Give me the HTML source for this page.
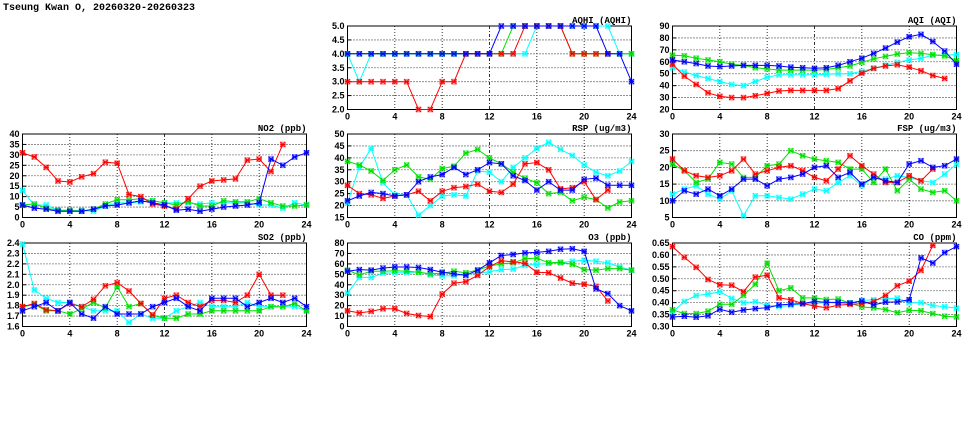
<!DOCTYPE html>
<html><head><meta charset="utf-8"><style>
html,body{margin:0;padding:0;background:#fff;}
svg{display:block;}
text{font-family:"Liberation Sans",sans-serif;font-weight:bold;font-size:9px;fill:#000;}
.ttl{font-family:"Liberation Mono",monospace;font-size:9px;}
</style></head><body>
<svg id="chart" width="975" height="447" viewBox="0 0 975 447">
<text class="ttl" x="3" y="10" style="font-size:10px">Tseung Kwan O, 20260320-20260323</text>
</svg>
<script>
const hours = [0,1,2,3,4,5,6,7,8,9,10,11,12,13,14,15,16,17,18,19,20,21,22,23,24];
const seriesColors = ["#ff0000","#00e000","#00ffff","#0000ff"];
const seriesOrder = [2,1,0,3];
const xTickLabels = [0,4,8,12,16,20,24];

const no2Red = [31,29,24,17.5,17,19.5,21,26.5,26,11,10,6.5,5.5,4,9,15,17.5,18,18.5,27.5,28,22,35,null,null];
const no2Green = [6,6.5,4.5,3.5,3.5,3,4,6.5,8.5,8.5,9,8,7,6,7.5,5.5,5.5,8,7.5,7.5,9,7,5.5,5.5,6];
const no2Blue = [6,4.5,4,3,3,3,4,5.5,6,7,8,7,6,3.5,4,3,4,5,5.5,6,7,28,25,29,31];
const no2Cyan = [13,6,6,3.5,3,3.5,3,5.5,7,7,7.5,8,7,7,7,6.5,7,7,7,7,6,6,4.5,7,6];
const no2Ticks = [0,5,10,15,20,25,30,35,40];

const aqhiRed = [3,3,3,3,3,3,2,2,3,3,4,4,4,4,4,5,5,5,5,4,4,4,4,null,null];
const aqhiGreen = [4,4,4,4,4,4,4,4,4,4,4,4,4,4,5,5,5,5,5,4,4,4,4,4,4];
const aqhiBlue = [4,4,4,4,4,4,4,4,4,4,4,4,4,5,5,5,5,5,5,5,5,5,4,4,3];
const aqhiCyan = [4,3,4,4,4,4,4,4,4,4,4,4,4,4,4,4,5,5,5,5,5,5,5,4,4];
const aqhiTicks = [2.0,2.5,3.0,3.5,4.0,4.5,5.0];

const aqiRed = [58,48,41,34,31,30,30,31.5,33.5,35.5,36,36,36,36,37.5,44,50.5,54.5,56.5,57.5,55.5,52.5,48.5,46,null];
const aqiGreen = [65.5,65,63,61.5,60,58,57,55,54,53,53,53,53,53.5,55,56.5,59.5,62.5,64.5,66.5,67.5,67,66,65,61];
const aqiBlue = [61.5,60,58.5,56.5,56,56.5,57,57,57,56.5,55.5,55,54.5,55,57,60,63,67,71.5,76.5,81,83,77,69,58];
const aqiCyan = [55,51.5,48.5,46,43.5,41,40,43.5,47,49,49,49,49,49.5,50,50,52,54.5,57,59.5,61.5,63,65.5,65.5,66];
const aqiTicks = [20,30,40,50,60,70,80,90];

const rspRed = [28.5,25,24.5,23,24,24.5,26,22,26,27.5,28,29,26,25.5,29,37.5,38,35,27,27.5,30,22.5,26.5,null,null];
const rspGreen = [38.5,37,34.5,30.5,35,37,32,31,35.5,36.5,42,43.5,40,37.5,34,31.5,29.5,25,25.5,22,23.5,22.5,19,21.5,22];
const rspBlue = [22,24,25.5,25,24,24.5,30,32,33,36,33,35,38,37.5,32.5,30.5,26.5,30,26.5,26.5,31,31.5,28.5,28.5,28.5];
const rspCyan = [21,36,44,29.5,24.5,24.5,16,20,24,24.5,24,34.5,34,30,36,40,44,46.5,43.5,41,37,34,32.5,34.5,38.5];
const rspTicks = [15,20,25,30,35,40,45,50];

const fspRed = [22.5,19,17.5,17,17.5,19,22.5,18,19,20,20.5,19,17,16,19.5,23.5,20.5,18,15.5,15.5,17.5,16,19.5,null,null];
const fspGreen = [21,19,15.5,16.5,21.5,21,17,17,20.5,21,25,23.5,22.5,22,21.5,19.5,19.5,15.5,19.5,13,16.5,13.5,12.5,13,10];
const fspBlue = [10,13,12,13.5,11.5,13.5,16.5,16.5,14.5,16.5,17,18,20,20.5,17,18.5,15,17,16,15.5,21,22,20,20.5,22.5];
const fspCyan = [12,13.5,14.5,12,10.5,13,5.5,11.5,11.5,11,10.5,12,13.5,13,15.5,17.5,14.5,17,16.5,17.5,17,16,15.5,18,21];
const fspTicks = [5,10,15,20,25,30];

const so2Red = [1.79,1.82,1.76,1.75,1.82,1.79,1.86,1.99,2.02,1.94,1.82,1.71,1.87,1.9,1.83,1.79,1.85,1.85,1.83,1.9,2.1,1.9,1.9,null,null];
const so2Green = [1.79,1.81,1.75,1.75,1.72,1.77,1.83,1.78,1.98,1.79,1.82,1.71,1.68,1.68,1.72,1.72,1.75,1.75,1.75,1.75,1.75,1.79,1.79,1.82,1.75];
const so2Blue = [1.75,1.79,1.83,1.75,1.83,1.72,1.68,1.79,1.72,1.72,1.72,1.79,1.83,1.87,1.79,1.75,1.87,1.87,1.87,1.79,1.83,1.87,1.83,1.87,1.79];
const so2Cyan = [2.39,1.95,1.87,1.83,1.83,1.79,1.75,1.75,1.75,1.64,1.72,1.68,1.68,1.75,1.79,1.83,1.79,1.79,1.79,1.83,1.79,1.79,1.79,1.79,1.75];
const so2Ticks = [1.6,1.7,1.8,1.9,2.0,2.1,2.2,2.3,2.4];

const o3Red = [15,13,14.5,17,17,12.5,10.5,9.5,31,41.5,43,49,57.5,63,62,60.5,52,51.5,46.5,41.5,40.5,38.5,24.5,null,null];
const o3Green = [54,49.5,53,53,53.5,53,52,50.5,51,53,51.5,54,58,60,61,65,65.5,61,61.5,59.5,54.5,54,55.5,55.5,54];
const o3Blue = [53,54.5,54,56,57,57,56.5,54.5,52,50.5,49,54,61,68,69,70.5,71,72,74,74.5,72,36,31.5,20,15];
const o3Cyan = [32,47,47,51,51.5,51.5,52.5,49.5,48.5,48.5,50,51,52.5,54.5,55,58.5,59.5,60.5,61,62.5,63.5,62.5,61,57,54];
const o3Ticks = [0,10,20,30,40,50,60,70,80];

const coRed = [0.635,0.59,0.548,0.497,0.475,0.473,0.446,0.507,0.515,0.42,0.412,0.396,0.386,0.379,0.389,0.393,0.395,0.405,0.43,0.471,0.49,0.535,0.64,null,null];
const coGreen = [0.37,0.354,0.354,0.364,0.393,0.393,0.43,0.477,0.565,0.45,0.462,0.42,0.42,0.413,0.415,0.398,0.382,0.378,0.371,0.358,0.368,0.366,0.354,0.343,0.34];
const coBlue = [0.34,0.343,0.339,0.345,0.372,0.36,0.369,0.375,0.379,0.39,0.394,0.396,0.405,0.401,0.401,0.398,0.407,0.391,0.402,0.403,0.412,0.588,0.566,0.61,0.635];
const coCyan = [0.36,0.405,0.43,0.436,0.446,0.418,0.399,0.404,0.389,0.384,0.388,0.396,0.395,0.401,0.398,0.399,0.409,0.412,0.416,0.419,0.399,0.4,0.388,0.383,0.377];
const coTicks = [0.30,0.35,0.40,0.45,0.50,0.55,0.60,0.65];

const NS = "http://www.w3.org/2000/svg";
const svg = document.getElementById("chart");
function mk(tag, attrs, parent){
  const e = document.createElementNS(NS, tag);
  for (const k in attrs) e.setAttribute(k, attrs[k]);
  (parent||svg).appendChild(e);
  return e;
}
const colX = [22.5, 347.5, 672.5];
const rowY = [26, 134, 243];
const W = 284, H = 83.5;

function panel(name, title, col, row, ticks, dec, series){
  const x0 = colX[col], y0 = rowY[row];
  const ymin = ticks[0], ymax = ticks[ticks.length-1];
  const sx = v => x0 + (v/24)*W;
  const sy = v => y0 + H - (v-ymin)/(ymax-ymin)*H;
  const g = mk("g", {});
  
  
  ticks.forEach((t,i) => {
    if (i>0 && i<ticks.length-1){
      const l = mk("line",{x1:x0,x2:x0+W,y1:sy(t),y2:sy(t),stroke:"#000","stroke-width":0.8,"stroke-dasharray":"1,2"},g);
      
      
    }
    const tl = mk("text",{x:x0-3,y:sy(t)+3,"text-anchor":"end"},g);
    tl.textContent = t.toFixed(dec);
    
    
    mk("line",{x1:x0,x2:x0+4,y1:sy(t),y2:sy(t),stroke:"#000","stroke-width":1},g);
  });
  xTickLabels.forEach((t,i) => {
    if (i>0 && i<xTickLabels.length-1){
      const l = mk("line",{x1:sx(t),x2:sx(t),y1:y0,y2:y0+H,stroke:"#000","stroke-width":0.8,"stroke-dasharray": t===12?"3,2,1,2":"1,2"},g);
      
      
    }
    const tl = mk("text",{x:sx(t),y:y0+H+10,"text-anchor":"middle"},g);
    tl.textContent = t;
    
    
  });
  const fr = mk("rect",{x:x0,y:y0,width:W,height:H,fill:"none",stroke:"#000","stroke-width":1},g);
  
  
  const tt = mk("text",{x:x0+W,y:y0-3,"text-anchor":"end",class:"ttl"},g);
  tt.textContent = title;
  
  
  seriesOrder.forEach(si => {
    const vals = series[si], c = seriesColors[si];
    let d = "", pen = false;
    vals.forEach((v,i) => {
      if (v===null){pen=false;return;}
      d += (pen?"L":"M") + sx(hours[i]).toFixed(1) + "," + sy(v).toFixed(1);
      pen = true;
    });
    const p = mk("path",{d:d,fill:"none",stroke:c,"stroke-width":1},g);
    
    
    vals.forEach((v,i) => {
      if (v===null) return;
      const cx = sx(hours[i]), cy = sy(v);
      const m = mk("g",{},g);
      
      
      mk("rect",{x:cx-2.5,y:cy-2.5,width:5,height:5,fill:c,"fill-opacity":0.35,stroke:c,"stroke-opacity":0.5,"stroke-width":0.6},m);
      mk("path",{d:`M${cx-2.5},${cy-2.5}L${cx+2.5},${cy+2.5}M${cx-2.5},${cy+2.5}L${cx+2.5},${cy-2.5}M${cx-2.5},${cy}L${cx+2.5},${cy}`,stroke:c,"stroke-width":1},m);
    });
  });
}
panel("aqhi","AQHI (AQHI)",1,0,aqhiTicks,1,[aqhiRed,aqhiGreen,aqhiCyan,aqhiBlue]);
panel("aqi","AQI (AQI)",2,0,aqiTicks,0,[aqiRed,aqiGreen,aqiCyan,aqiBlue]);
panel("no2","NO2 (ppb)",0,1,no2Ticks,0,[no2Red,no2Green,no2Cyan,no2Blue]);
panel("rsp","RSP (ug/m3)",1,1,rspTicks,0,[rspRed,rspGreen,rspCyan,rspBlue]);
panel("fsp","FSP (ug/m3)",2,1,fspTicks,0,[fspRed,fspGreen,fspCyan,fspBlue]);
panel("so2","SO2 (ppb)",0,2,so2Ticks,1,[so2Red,so2Green,so2Cyan,so2Blue]);
panel("o3","O3 (ppb)",1,2,o3Ticks,0,[o3Red,o3Green,o3Cyan,o3Blue]);
panel("co","CO (ppm)",2,2,coTicks,2,[coRed,coGreen,coCyan,coBlue]);
</script>
</body></html>
